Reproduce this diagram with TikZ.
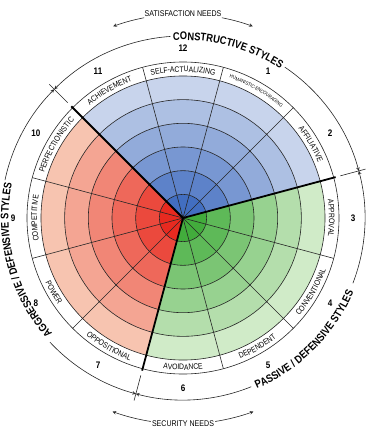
\documentclass[tikz,border=0pt]{standalone}
\usepackage{fontspec}
\setmainfont[FakeStretch=0.85]{Liberation Sans}
\usetikzlibrary{decorations.text}
\definecolor{bluein}{RGB}{66,110,192}
\definecolor{blueout}{RGB}{200,212,236}
\definecolor{redin}{RGB}{232,42,32}
\definecolor{redout}{RGB}{247,196,176}
\definecolor{greenin}{RGB}{66,172,60}
\definecolor{greenout}{RGB}{208,235,200}
\newcommand{\ringw}{23.67}
\newcommand{\Rlab}{156}
\newcommand{\Rout}{182}

\begin{document}
\begin{tikzpicture}[x=1pt,y=1pt,
  thinline/.style={draw=black!85,line width=0.6pt},
  thickline/.style={draw=black,line width=1.8pt},
  arctext/.style={decorate,decoration={text along path,text align=center,text/.expanded=#1}}]
\useasboundingbox (-183,-222) rectangle (192,218);

\foreach \k in {6,5,...,1}{
  \pgfmathsetmacro{\r}{\k*\ringw}
  \pgfmathtruncatemacro{\p}{(\k-1)*20}
  \fill[blueout!\p!bluein] (0,0) -- (15:\r) arc[start angle=15,end angle=135,radius=\r] -- cycle;
  \fill[redout!\p!redin] (0,0) -- (135:\r) arc[start angle=135,end angle=255,radius=\r] -- cycle;
  \fill[greenout!\p!greenin] (0,0) -- (255:\r) arc[start angle=255,end angle=375,radius=\r] -- cycle;
}
\foreach \k in {1,...,6}
  \draw[thinline] (0,0) circle[radius={\k*\ringw}];
\draw[thinline] (0,0) circle[radius=\Rlab];
\foreach \a in {45,75,105,165,195,225,285,315,345}
  \draw[thinline] (0,0) -- (\a:\Rlab);
\foreach \a in {15,135,255}{
  \draw[thickline] (0,0) -- (\a:158);
  \draw[thinline] (\a:163) -- (\a:189);
}

{\fontsize{8}{9}\selectfont
\foreach \a/\t in {90/SELF-ACTUALIZING,30/AFFILIATIVE,0/APPROVAL,180/COMPETITIVE,150/PERFECTIONISTIC,120/ACHIEVEMENT}
  \path[arctext=\t] ({\a+15}:146) arc[start angle=\a+15,end angle=\a-15,radius=146];
\foreach \a/\t in {-30/CONVENTIONAL,-60/DEPENDENT,-90/AVOIDANCE,-120/OPPOSITIONAL,-150/POWER}
  \path[arctext=\t] ({\a-15}:152) arc[start angle=\a-15,end angle=\a+15,radius=152];
}
{\fontsize{5}{6}\selectfont
\path[arctext=HUMANISTIC-ENCOURAGING] (75:147.5) arc[start angle=75,end angle=45,radius=147.5];
}

\foreach \n in {1,...,12}
  \node[font=\fontsize{9.5}{10}\selectfont\bfseries] (num\n) at ({90-30*\n}:170) {\n};

{\fontsize{11}{12}\selectfont\bfseries
\path[arctext=CONSTRUCTIVE STYLES] (105:178) arc[start angle=105,end angle=45,radius=178];
\path[arctext=AGGRESSIVE / DEFENSIVE STYLES] (230:174.5) arc[start angle=230,end angle=160,radius=174.5];
\path[arctext=PASSIVE / DEFENSIVE STYLES] (-80:186) arc[start angle=-80,end angle=-10,radius=186];
}
\draw[thinline,-stealth] (94:\Rout) arc[start angle=94,end angle=135,radius=\Rout];
\draw[thinline,-stealth] (56:\Rout) arc[start angle=56,end angle=15,radius=\Rout];
\draw[thinline,-stealth] (223:\Rout) arc[start angle=223,end angle=255,radius=\Rout];
\draw[thinline,-stealth] (168:\Rout) arc[start angle=168,end angle=135,radius=\Rout];
\draw[thinline,-stealth] (-21:\Rout) arc[start angle=-21,end angle=15,radius=\Rout];
\draw[thinline,-stealth] (-68:\Rout) arc[start angle=-68,end angle=-105,radius=\Rout];

\node[font=\fontsize{8.3}{9}\selectfont] (sat) at (90:204) {SATISFACTION NEEDS};
\coordinate (satl) at (101:204);
\coordinate (satr) at (79:204);
\draw[thinline,-stealth] (satl) arc[start angle=101,end angle=110,radius=204];
\draw[thinline,-stealth] (satr) arc[start angle=79,end angle=70,radius=204];

\node[font=\fontsize{8.3}{9}\selectfont] (sec) at (270:206) {SECURITY NEEDS};
\coordinate (secl) at (261:206);
\coordinate (secr) at (279:206);
\draw[thinline,-stealth] (secl) arc[start angle=261,end angle=250,radius=206];
\draw[thinline,-stealth] (secr) arc[start angle=279,end angle=290,radius=206];
\end{tikzpicture}
\end{document}
